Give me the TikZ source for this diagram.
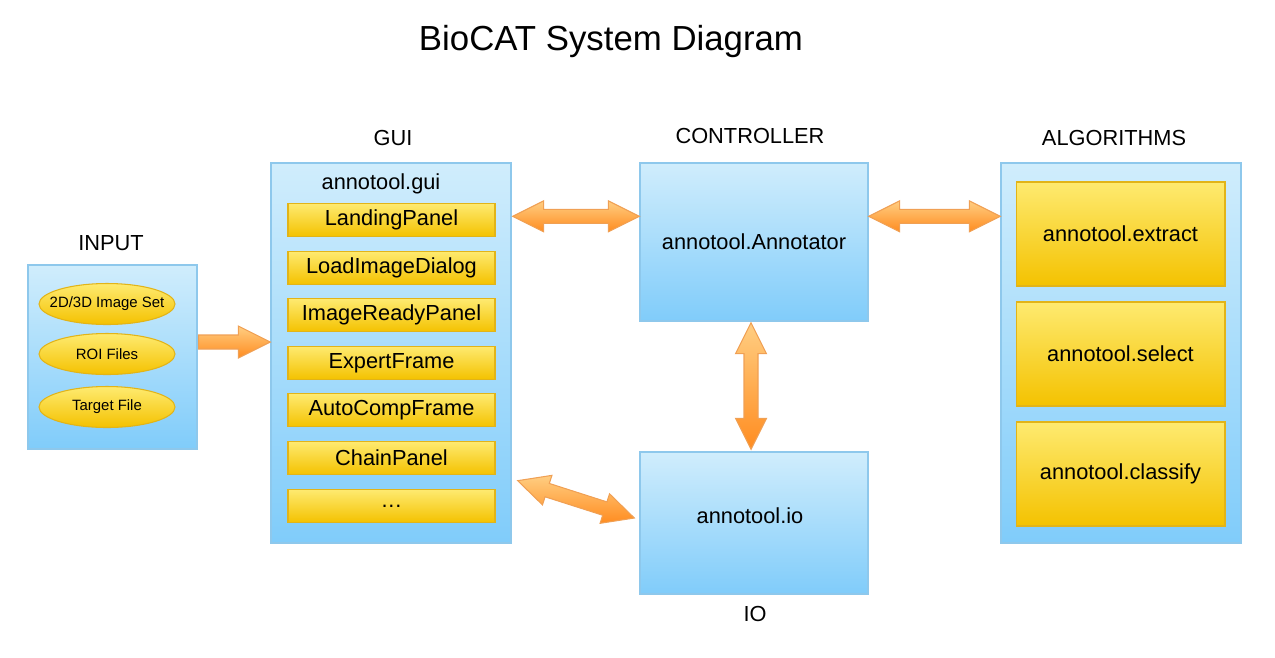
\documentclass[tikz,border=0pt]{standalone}
\usepackage{fontspec}
\setmainfont{Liberation Sans}
\usetikzlibrary{calc,positioning,shapes.geometric}

\definecolor{paneltop}{RGB}{208,237,252}
\definecolor{panelbot}{RGB}{128,204,250}
\definecolor{panelline}{RGB}{142,200,236}
\definecolor{bartop}{RGB}{254,234,112}
\definecolor{barbot}{RGB}{244,194,0}
\definecolor{barline}{RGB}{226,180,24}
\definecolor{arrtop}{RGB}{255,206,130}
\definecolor{arrbot}{RGB}{255,140,32}
\definecolor{arrline}{RGB}{240,160,84}

\newcommand\lbl{\fontsize{12.4pt}{15pt}\selectfont}
\tikzset{
  panel/.style={draw=panelline, line width=0.8pt, top color=paneltop, bottom color=panelbot, inner sep=0pt},
  bar/.style={draw=barline, line width=0.6pt, top color=bartop, bottom color=barbot, minimum width=4.14cm, minimum height=0.66cm, font=\lbl},
  oval/.style={ellipse, draw=barline, line width=0.6pt, top color=bartop, bottom color=barbot, minimum width=2.72cm, minimum height=0.82cm, inner xsep=-12pt, inner ysep=0pt, font=\fontsize{8.5pt}{10pt}\selectfont},
  fatarrow/.style={draw=arrline, line width=0.6pt, line join=miter, top color=arrtop, bottom color=arrbot},
  caption/.style={font=\lbl}
}
\newcommand\fatlink[2]{%
  \coordinate (h1) at ($(#1)!0.62cm!(#2)$);
  \coordinate (h2) at ($(#2)!0.62cm!(#1)$);
  \path[fatarrow] (#1) -- ($(h1)!0.31cm!90:(#2)$) -- ($(h1)!0.14cm!90:(#2)$)
    -- ($(h2)!0.14cm!-90:(#1)$) -- ($(h2)!0.31cm!-90:(#1)$) -- (#2)
    -- ($(h2)!0.31cm!90:(#1)$) -- ($(h2)!0.14cm!90:(#1)$)
    -- ($(h1)!0.14cm!-90:(#2)$) -- ($(h1)!0.31cm!-90:(#2)$) -- cycle;
}
\newcommand\fatpush[2]{%
  \coordinate (h2) at ($(#2)!0.64cm!(#1)$);
  \path[fatarrow] ($(#1)!0.14cm!90:(#2)$) -- ($(h2)!0.14cm!-90:(#1)$)
    -- ($(h2)!0.32cm!-90:(#1)$) -- (#2) -- ($(h2)!0.32cm!90:(#1)$)
    -- ($(h2)!0.14cm!90:(#1)$) -- ($(#1)!0.14cm!-90:(#2)$) -- cycle;
}

\begin{document}
\begin{tikzpicture}[x=0.02cm, y=-0.02cm]
  \useasboundingbox (0,0) rectangle (1275,657);
  \node (title) at (611,41) {\fontsize{19.8pt}{24pt}\selectfont BioCAT System Diagram};

  \node (input) [panel, minimum width=3.38cm, minimum height=3.68cm] at (112.5,357) {};
  \node (input label) [caption] at (111,243) {INPUT};
  \node (imgset) [oval] at (107,304) {2D/3D Image Set};
  \node (roi) [oval] at (107,354) {ROI Files};
  \node (target) [oval] at (107,407) {Target File};

  \node (gui) [panel, minimum width=4.8cm, minimum height=7.6cm] at (391,353) {};
  \node (gui label) [caption] at (393,138) {GUI};
  \node (gui pkg) [caption] at (381,184) {annotool.gui};
  \foreach \name [count=\i from 0] in {LandingPanel, LoadImageDialog, ImageReadyPanel, ExpertFrame, AutoCompFrame, ChainPanel}
    \node (bar \i) [bar] at (391.5,220+47.6*\i) {\name};
  \node (bar more) [bar] at (391.5,506) {.\kern0.5pt.\kern0.5pt.};

  \node (ctrl) [panel, minimum width=4.56cm, minimum height=3.16cm, font=\lbl] at (754,242) {annotool.Annotator};
  \node (ctrl label) [caption] at (750,136) {CONTROLLER};

  \node (io) [panel, minimum width=4.56cm, minimum height=2.84cm, font=\lbl] at (754,523) {};
  \node (io pkg) [caption] at (750,516) {annotool.io};
  \node (io label) [caption] at (755,614) {IO};

  \node (algo) [panel, minimum width=4.8cm, minimum height=7.6cm] at (1121,353) {};
  \node (algo label) [caption] at (1114,138) {ALGORITHMS};
  \node (extract) [bar, minimum width=4.18cm, minimum height=2.08cm] at (1120.5,234) {annotool.extract};
  \node (select) [bar, minimum width=4.18cm, minimum height=2.08cm] at (1120.5,354) {annotool.select};
  \node (classify) [bar, minimum width=4.18cm, minimum height=2.08cm] at (1120.5,474) {annotool.classify};

  \coordinate (in tail) at ($(input.east)+(1,-15)$);
  \coordinate (in tip) at (in tail -| gui.west);
  \fatpush{in tail}{in tip}

  \coordinate (gc a) at ($(gui.north east)+(1,54)$);
  \coordinate (gc b) at (gc a -| ctrl.west);
  \fatlink{gc a}{gc b}

  \coordinate (ca a) at (gc a -| ctrl.east);
  \coordinate (ca b) at (gc a -| algo.west);
  \fatlink{ca a}{ca b}

  \coordinate (ci a) at ($(ctrl.south)+(-3,1)$);
  \coordinate (ci b) at ($(io.north)+(-3,-2)$);
  \fatlink{ci a}{ci b}

  \coordinate (gi a) at ($(gui.south east)+(6,-63)$);
  \coordinate (gi b) at ($(io.west)+(-5,-5)$);
  \fatlink{gi a}{gi b}
\end{tikzpicture}
\end{document}
